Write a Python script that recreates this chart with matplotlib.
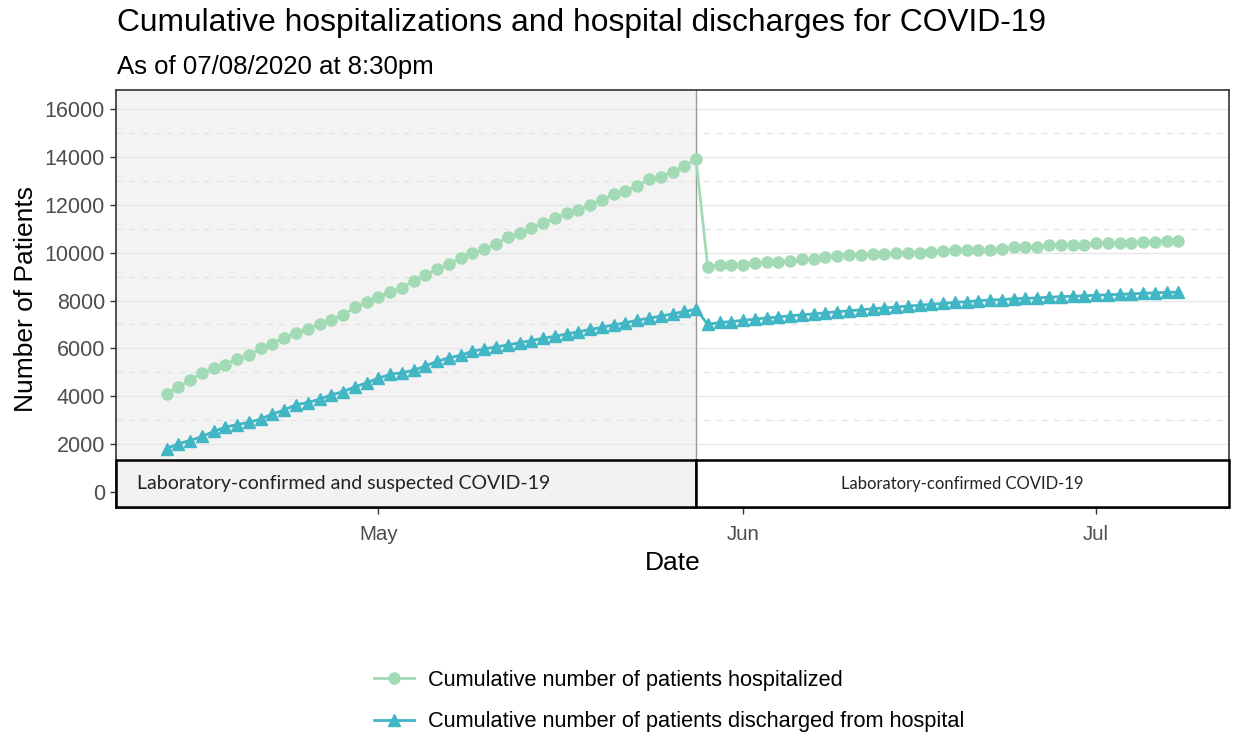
import matplotlib
matplotlib.use("Agg")
import matplotlib.pyplot as plt
import matplotlib.dates as mdates
from matplotlib.patches import Rectangle
from matplotlib.lines import Line2D
import matplotlib.transforms as mtransforms
import pandas as pd

# ---------------- data ----------------
start_date = "2020-04-13"
end_date = "2020-07-08"
break_date = "2020-05-28"

hospitalized = [
    4080, 4380, 4670, 4960, 5180, 5320, 5560, 5710, 6000, 6200,
    6440, 6660, 6820, 7030, 7190, 7400, 7710, 7920, 8140, 8350,
    8530, 8820, 9060, 9320, 9540, 9760, 9980, 10160, 10360,
    10650, 10830, 11030, 11240, 11450, 11650, 11800, 12000, 12210, 12440,
    12580, 12790, 13070, 13180, 13390, 13620, 13900,
    9400, 9500, 9480, 9500, 9570, 9610, 9610, 9640, 9720, 9750,
    9820, 9860, 9890, 9900, 9950, 9960, 10000, 10000, 10000, 10050,
    10090, 10100, 10100, 10110, 10130, 10160, 10220, 10230, 10240, 10320,
    10330, 10330, 10340, 10390, 10400, 10400, 10410, 10450, 10460, 10470, 10480,
]
discharged = [
    1800, 2010, 2140, 2310, 2520, 2700, 2810, 2900, 3040, 3250,
    3420, 3640, 3730, 3870, 4050, 4190, 4380, 4560, 4750, 4910,
    4980, 5080, 5260, 5460, 5600, 5710, 5880, 5970, 6060,
    6140, 6230, 6320, 6420, 6500, 6600, 6690, 6790, 6880, 6980,
    7070, 7170, 7260, 7350, 7440, 7540, 7630,
    7000, 7080, 7120, 7170, 7220, 7270, 7310, 7360, 7400, 7440,
    7490, 7530, 7570, 7610, 7650, 7690, 7730, 7770, 7800, 7840,
    7880, 7920, 7950, 7990, 8020, 8040, 8070, 8090, 8110, 8140,
    8160, 8180, 8200, 8220, 8240, 8260, 8280, 8300, 8320, 8340, 8350,
]
series_labels = ["Cumulative number of patients hospitalized",
                 "Cumulative number of patients discharged from hospital"]
y_ticks = [0, 2000, 4000, 6000, 8000, 10000, 12000, 14000, 16000]
x_tick_dates = ["2020-05-01", "2020-06-01", "2020-07-01"]
x_tick_labels = ["May", "Jun", "Jul"]
box_labels = ["Laboratory-confirmed and suspected COVID-19",
              "Laboratory-confirmed COVID-19"]

dates = pd.date_range(start_date, end_date, freq="D")

# ---------------- style ----------------
GREEN = "#a1dab4"
TEAL = "#41b6c4"
FONT = ["Liberation Sans", "DejaVu Sans"]
BOXFONT = ["Lato", "DejaVu Sans"]
plt.rcParams["font.family"] = FONT

W, H = 1233, 734
fig = plt.figure(figsize=(W / 100, H / 100), dpi=100)
L, R, T, B = 116, 1229, 90, 508
ax = fig.add_axes([L / W, 1 - B / H, (R - L) / W, (B - T) / H])

x0 = mdates.date2num(pd.Timestamp(start_date))
x1 = mdates.date2num(pd.Timestamp(end_date))
pad = (x1 - x0) * 0.05
xmin, xmax = x0 - pad, x1 + pad
ax.set_xlim(xmin, xmax)
ax.set_ylim(-682, 16808)

xb = mdates.date2num(pd.Timestamp(break_date))

# shaded region and break line
ax.axvspan(xmin, xb, color="#f3f3f3", zorder=0.1, lw=0)
ax.axvline(xb, color="#9a9a9a", lw=1.0, zorder=1.5)

# grid
ax.set_axisbelow(True)
for v in y_ticks:
    ax.axhline(v, color="#e6e6e6", lw=1.0, zorder=0.5)
for v in range(1000, 17000, 2000):
    ax.axhline(v, color="#e3e3e3", lw=0.9, ls=(0, (5, 5)), zorder=0.5)

# series
ax.plot(dates, hospitalized, color=GREEN, lw=2, marker="o", ms=8,
        mec=GREEN, mfc=GREEN, zorder=3)
ax.plot(dates, discharged, color=TEAL, lw=2, marker="^", ms=8.5,
        mec=TEAL, mfc=TEAL, zorder=3)

# axes styling
for s in ax.spines.values():
    s.set_color("#333333")
    s.set_linewidth(1.2)
ax.set_yticks(y_ticks)
ax.set_yticklabels([str(v) for v in y_ticks])
ax.set_xticks([mdates.date2num(pd.Timestamp(d)) for d in x_tick_dates])
ax.set_xticklabels(x_tick_labels)
ax.tick_params(axis="both", colors="#333333", length=4, width=1.0,
               labelsize=15.5, labelcolor="#4d4d4d", pad=4)
ax.tick_params(axis="x", labelsize=14.8, pad=8)

ax.set_xlabel("Date", fontsize=19, color="black", labelpad=5)
ax.set_ylabel("Number of Patients", fontsize=19, color="black", labelpad=5)

# annotation boxes
trans = mtransforms.blended_transform_factory(ax.transData, ax.transAxes)
by0, by1 = (B - 507) / (B - T), (B - 460) / (B - T)
ax.add_patch(Rectangle((xmin, by0), xb - xmin, by1 - by0, transform=trans,
                       facecolor="#f2f2f2", edgecolor="black", lw=1.8,
                       zorder=5, clip_on=False))
ax.add_patch(Rectangle((xb, by0), xmax - xb, by1 - by0, transform=trans,
                       facecolor="white", edgecolor="black", lw=1.8,
                       zorder=5, clip_on=False))
ax.text(xmin + (137 - L) / (R - L) * (xmax - xmin), (by0 + by1) / 2,
        box_labels[0], transform=trans, ha="left", va="center",
        fontsize=14, family=BOXFONT, color="#222222", zorder=6)
ax.text((xb + xmax) / 2, (by0 + by1) / 2, box_labels[1], transform=trans,
        ha="center", va="center", fontsize=12, family=BOXFONT,
        color="#222222", zorder=6)

# titles
fig.text(117 / W, 1 - 31 / H,
         "Cumulative hospitalizations and hospital discharges for COVID-19",
         fontsize=22.9, ha="left", va="baseline")
fig.text(117 / W, 1 - 74 / H, "As of 07/08/2020 at 8:30pm",
         fontsize=18.5, ha="left", va="baseline")

# legend
handles = [
    Line2D([], [], color=GREEN, lw=2, marker="o", ms=8, mec=GREEN),
    Line2D([], [], color=TEAL, lw=2, marker="^", ms=8.5, mec=TEAL),
]
fig.legend(handles, series_labels, loc="upper center",
           bbox_to_anchor=(669 / W, 1 - 650 / H), frameon=False,
           fontsize=15.7, handlelength=1.85, labelspacing=0.95,
           handletextpad=0.6)

fig.savefig("out.png", dpi=100)
